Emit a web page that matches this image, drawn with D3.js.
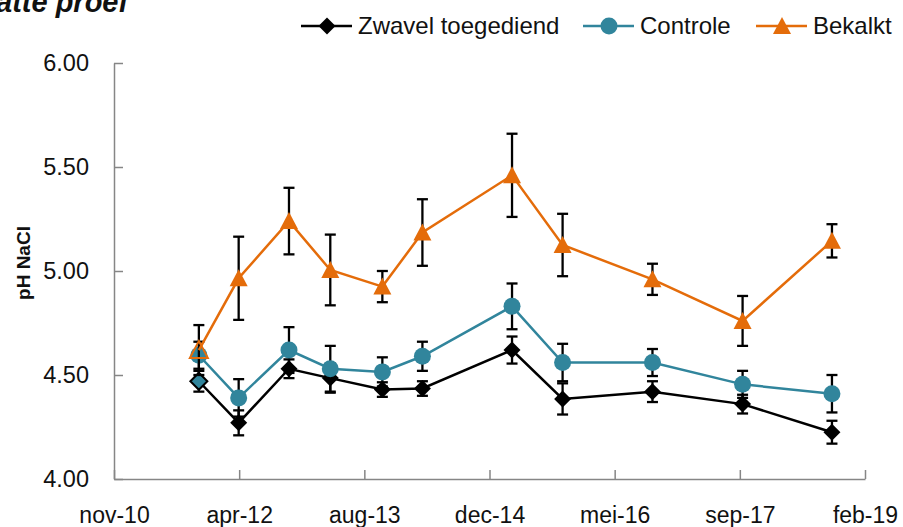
<!DOCTYPE html>
<html>
<head>
<meta charset="utf-8">
<script src="https://cdn.jsdelivr.net/npm/d3@7"></script>
<style>
  body { margin: 0; background: #fff; }
  text { font-family: "Liberation Sans", Arial, sans-serif; fill: #111; }
</style>
</head>
<body>
<div id="chart"></div>
<script>
const WIDTH = 903
const HEIGHT = 527

// sampling dates
const dates = ["2011-10-25", "2012-04-01", "2012-10-19", "2013-04-02", "2013-10-27", "2014-04-05",
    "2015-03-29", "2015-10-17", "2016-10-10", "2017-10-05", "2018-09-27"]

const zwavel = [4.47, 4.27, 4.53, 4.485, 4.43, 4.435, 4.62, 4.385, 4.42, 4.36, 4.225]
const zwavelErr = [0.05, 0.06, 0.045, 0.07, 0.035, 0.035, 0.065, 0.075, 0.05, 0.045, 0.055]

const controle = [4.595, 4.39, 4.62, 4.53, 4.515, 4.59, 4.83, 4.56, 4.56, 4.455, 4.41]
const controleErr = [0.065, 0.09, 0.11, 0.11, 0.07, 0.07, 0.11, 0.09, 0.065, 0.065, 0.09]

const bekalkt = [4.62, 4.965, 5.24, 5.005, 4.925, 5.185, 5.46, 5.125, 4.96, 4.76, 5.145]
const bekalktErr = [0.12, 0.2, 0.16, 0.17, 0.075, 0.16, 0.2, 0.15, 0.075, 0.12, 0.08]

const xTickDates = ["2010-11-20", "2012-04-03", "2013-08-16", "2014-12-29", "2016-05-12", "2017-09-24", "2019-02-06"]
const xTickLabels = ["nov-10", "apr-12", "aug-13", "dec-14", "mei-16", "sep-17", "feb-19"]
const yTicks = [4.0, 4.5, 5.0, 5.5, 6.0]

const TEAL = "#31859c"
const ORANGE = "#e46c0a"

const parse = d3.timeParse("%Y-%m-%d")

const series = [
    {name: "Zwavel toegediend", values: zwavel, err: zwavelErr, color: "#000", marker: "diamond", firstFill: TEAL},
    {name: "Controle", values: controle, err: controleErr, color: TEAL, marker: "circle"},
    {name: "Bekalkt", values: bekalkt, err: bekalktErr, color: ORANGE, marker: "triangle", firstFill: "none"}
]

const svg = d3.select("#chart")
    .append("svg")
    .attr("width", WIDTH)
    .attr("height", HEIGHT)

const x = d3.scaleTime()
    .domain([parse(xTickDates[0]), parse(xTickDates[xTickDates.length - 1])])
    .range([114, 865])

const y = d3.scaleLinear()
    .domain([4, 6])
    .range([479, 63])

// markers
const markerPath = {
    diamond: "M0,-8.5L8.5,0L0,8.5L-8.5,0Z",
    triangle: "M0,-9L9,8L-9,8Z",
    circle: d3.symbol(d3.symbolCircle, Math.PI * 8.5 * 8.5)()
}

// axes
const yAxis = d3.axisLeft(y)
    .tickValues(yTicks)
    .tickFormat(d3.format(".2f"))
    .tickSizeInner(-9)
    .tickSizeOuter(0)
    .tickPadding(25)

const xAxis = d3.axisBottom(x)
    .tickValues(xTickDates.map(parse))
    .tickFormat((d, i) => xTickLabels[i])
    .tickSizeInner(-9)
    .tickSizeOuter(0)
    .tickPadding(28)

const gy = svg.append("g")
    .attr("transform", `translate(${x.range()[0]},0)`)
    .call(yAxis)

const gx = svg.append("g")
    .attr("transform", `translate(0,${y.range()[0]})`)
    .call(xAxis)

for (const g of [gx, gy]) {
    g.select(".domain").attr("stroke", "#868686").attr("stroke-width", 1.5)
    g.selectAll(".tick line").attr("stroke", "#868686").attr("stroke-width", 1.5)
    g.selectAll(".tick text")
        .attr("fill", "#111")
        .style("font-family", "'Liberation Sans', Arial, sans-serif")
        .style("font-size", g === gx ? "23px" : "23.5px")
}

// y title
svg.append("text")
    .attr("transform", `translate(30,${(y(4) + y(6)) / 2 - 8}) rotate(-90)`)
    .attr("text-anchor", "middle")
    .style("font-size", "19px")
    .style("font-weight", "bold")
    .text("pH NaCl")

// chart title, cut off at the top as in the original
svg.append("text")
    .attr("x", -4)
    .attr("y", 12)
    .style("font-size", "29px")
    .style("font-weight", "bold")
    .style("font-style", "italic")
    .text("atte proef")

// data
const line = d3.line()
    .x(d => x(d.date))
    .y(d => y(d.value))

series.forEach(s => {
    const pts = s.values.map((v, i) => ({date: parse(dates[i]), value: v, err: s.err[i], i}))
    const g = svg.append("g")

    // error bars
    const eb = g.selectAll(".eb").data(pts).join("g")
    eb.append("line")
        .attr("x1", d => x(d.date)).attr("x2", d => x(d.date))
        .attr("y1", d => y(d.value + d.err)).attr("y2", d => y(d.value - d.err))
    eb.append("line")
        .attr("x1", d => x(d.date) - 5.5).attr("x2", d => x(d.date) + 5.5)
        .attr("y1", d => y(d.value + d.err)).attr("y2", d => y(d.value + d.err))
    eb.append("line")
        .attr("x1", d => x(d.date) - 5.5).attr("x2", d => x(d.date) + 5.5)
        .attr("y1", d => y(d.value - d.err)).attr("y2", d => y(d.value - d.err))
    eb.selectAll("line").attr("stroke", "#000").attr("stroke-width", 2.3)

    g.append("path")
        .attr("d", line(pts))
        .attr("fill", "none")
        .attr("stroke", s.color)
        .attr("stroke-width", 2.5)

    g.selectAll(".mk").data(pts).join("path")
        .attr("transform", d => `translate(${x(d.date)},${y(d.value)})`)
        .attr("d", markerPath[s.marker])
        .attr("fill", d => (d.i === 0 && s.firstFill) ? s.firstFill : s.color)
        .attr("stroke", s.color)
        .attr("stroke-width", d => (d.i === 0 && s.firstFill) ? 2 : 0)
})

// legend
const legendX = [301, 583, 756]
const legend = svg.selectAll(".legend").data(series).join("g")
    .attr("transform", (d, i) => `translate(${legendX[i]},26)`)
legend.append("line")
    .attr("x1", 0).attr("x2", 51)
    .attr("stroke", d => d.color)
    .attr("stroke-width", 2.5)
legend.append("path")
    .attr("transform", "translate(26,0)")
    .attr("d", d => markerPath[d.marker])
    .attr("fill", d => d.color)
legend.append("text")
    .attr("x", 57)
    .attr("dy", "0.35em")
    .style("font-size", "24px")
    .text(d => d.name)
</script>
</body>
</html>
